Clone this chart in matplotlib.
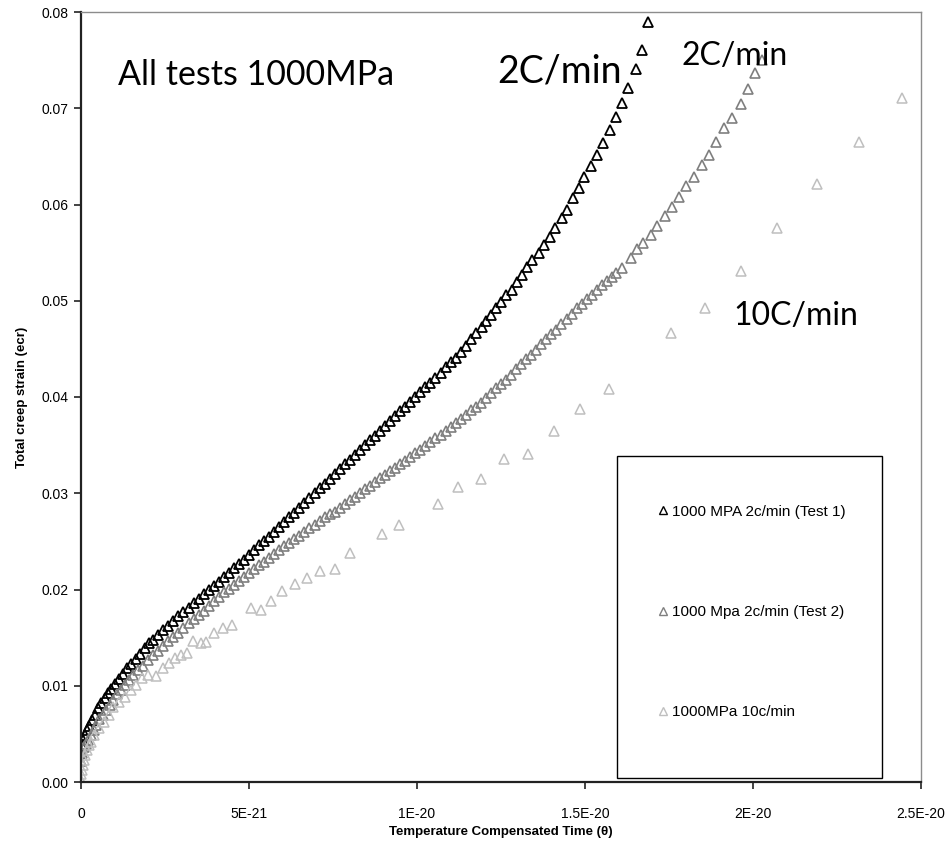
import matplotlib
matplotlib.use("Agg")
import matplotlib.pyplot as plt
from matplotlib.lines import Line2D
from matplotlib.patches import Rectangle
import numpy as np

# ---------------- data (theta in units of 1e-21) ----------------
test1_theta = [0.00, 0.03, 0.07, 0.12, 0.18, 0.25, 0.33, 0.41, 0.50, 0.60, 0.70, 0.80, 0.90, 1.00,
               1.12, 1.24, 1.37, 1.50, 1.63, 1.76, 1.89, 2.02, 2.15, 2.30, 2.45, 2.60, 2.75, 2.90,
               3.05, 3.20, 3.35, 3.50, 3.65, 3.80, 3.95, 4.10, 4.25, 4.40, 4.55, 4.70, 4.85, 5.00,
               5.15, 5.30, 5.45, 5.60, 5.75, 5.90, 6.05, 6.20, 6.35, 6.50, 6.65, 6.80, 6.95, 7.10,
               7.25, 7.40, 7.55, 7.70, 7.85, 8.00, 8.15, 8.30, 8.45, 8.60, 8.75, 8.90, 9.05, 9.20,
               9.35, 9.50, 9.65, 9.80, 9.95, 10.10, 10.25, 10.40, 10.55, 10.70, 10.85, 11.00, 11.15,
               11.30, 11.46, 11.61, 11.76, 11.93, 12.05, 12.20, 12.35, 12.50, 12.65, 12.83, 12.98,
               13.12, 13.27, 13.42, 13.63, 13.78, 13.96, 14.11, 14.32, 14.46, 14.64, 14.82, 14.97,
               15.18, 15.36, 15.54, 15.74, 15.92, 16.10, 16.28, 16.52, 16.70, 16.88]
test1_strain = [0.0030, 0.0038, 0.0044, 0.0049, 0.0054, 0.0058, 0.0064, 0.0070, 0.0077, 0.0082, 0.0087,
                0.0092, 0.0097, 0.0102, 0.0107, 0.0112, 0.0118, 0.0123, 0.0128, 0.0133, 0.0139, 0.0144,
                0.0148, 0.0153, 0.0158, 0.0162, 0.0167, 0.0172, 0.0177, 0.0181, 0.0186, 0.0190, 0.0195,
                0.0199, 0.0204, 0.0208, 0.0213, 0.0217, 0.0222, 0.0227, 0.0231, 0.0236, 0.0241, 0.0246,
                0.0250, 0.0255, 0.0260, 0.0265, 0.0270, 0.0275, 0.0280, 0.0285, 0.0290, 0.0295, 0.0300,
                0.0305, 0.0310, 0.0315, 0.0320, 0.0325, 0.0330, 0.0335, 0.0340, 0.0345, 0.0350, 0.0355,
                0.0360, 0.0365, 0.0370, 0.0375, 0.0380, 0.0385, 0.0390, 0.0395, 0.0400, 0.0405, 0.0410,
                0.0415, 0.0420, 0.0425, 0.0431, 0.0436, 0.0441, 0.0447, 0.0453, 0.0460, 0.0466, 0.0473,
                0.0479, 0.0485, 0.0492, 0.0499, 0.0506, 0.0511, 0.0519, 0.0527, 0.0535, 0.0542, 0.0550,
                0.0558, 0.0566, 0.0576, 0.0586, 0.0594, 0.0607, 0.0617, 0.0629, 0.0640, 0.0651, 0.0664,
                0.0677, 0.0691, 0.0705, 0.0721, 0.0741, 0.0761, 0.0790]

test2_theta = [0.00, 0.04, 0.09, 0.15, 0.22, 0.30, 0.38, 0.46, 0.55, 0.65, 0.75, 0.85, 0.95, 1.06,
               1.18, 1.30, 1.43, 1.56, 1.70, 1.85, 2.00, 2.15, 2.30, 2.45, 2.60, 2.75, 2.90, 3.05,
               3.20, 3.35, 3.50, 3.65, 3.80, 3.95, 4.10, 4.25, 4.40, 4.55, 4.70, 4.85, 5.00, 5.15,
               5.30, 5.45, 5.60, 5.75, 5.90, 6.05, 6.20, 6.35, 6.50, 6.65, 6.80, 6.95, 7.10, 7.25,
               7.40, 7.55, 7.70, 7.85, 8.00, 8.15, 8.30, 8.45, 8.60, 8.75, 8.90, 9.05, 9.20, 9.35,
               9.50, 9.65, 9.80, 9.95, 10.10, 10.25, 10.40, 10.55, 10.70, 10.85, 11.00, 11.15, 11.30,
               11.45, 11.60, 11.75, 11.90, 12.05, 12.20, 12.35, 12.50, 12.65, 12.80, 12.95, 13.10,
               13.25, 13.40, 13.55, 13.70, 13.85, 14.00, 14.15, 14.30, 14.45, 14.60, 14.75, 14.90,
               15.05, 15.20, 15.35, 15.50, 15.65, 15.80, 15.92, 16.10, 16.37, 16.55, 16.73, 16.96,
               17.14, 17.38, 17.59, 17.80, 18.00, 18.24, 18.48, 18.69, 18.90, 19.14, 19.38, 19.64,
               19.85, 20.06, 20.27]
test2_strain = [0.0022, 0.0030, 0.0036, 0.0040, 0.0044, 0.0049, 0.0054, 0.0059, 0.0065, 0.0070, 0.0075,
                0.0080, 0.0085, 0.0091, 0.0096, 0.0101, 0.0106, 0.0111, 0.0116, 0.0121, 0.0127, 0.0132,
                0.0136, 0.0141, 0.0146, 0.0151, 0.0155, 0.0160, 0.0165, 0.0169, 0.0174, 0.0178, 0.0183,
                0.0188, 0.0192, 0.0197, 0.0201, 0.0205, 0.0209, 0.0213, 0.0217, 0.0221, 0.0225, 0.0229,
                0.0233, 0.0237, 0.0241, 0.0245, 0.0248, 0.0252, 0.0256, 0.0260, 0.0264, 0.0267, 0.0271,
                0.0275, 0.0278, 0.0281, 0.0285, 0.0289, 0.0293, 0.0296, 0.0300, 0.0304, 0.0308, 0.0312,
                0.0316, 0.0319, 0.0323, 0.0326, 0.0330, 0.0334, 0.0338, 0.0342, 0.0345, 0.0349, 0.0353,
                0.0357, 0.0361, 0.0365, 0.0369, 0.0373, 0.0377, 0.0381, 0.0386, 0.0390, 0.0394, 0.0399,
                0.0404, 0.0409, 0.0414, 0.0418, 0.0423, 0.0429, 0.0434, 0.0439, 0.0444, 0.0449, 0.0455,
                0.0460, 0.0465, 0.0470, 0.0476, 0.0481, 0.0486, 0.0492, 0.0497, 0.0502, 0.0506, 0.0511,
                0.0516, 0.0521, 0.0525, 0.0529, 0.0534, 0.0544, 0.0554, 0.0560, 0.0568, 0.0578, 0.0588,
                0.0597, 0.0608, 0.0619, 0.0629, 0.0641, 0.0651, 0.0665, 0.0679, 0.0690, 0.0704, 0.0720,
                0.0737, 0.0750]

test3_theta = [0.00, 0.01, 0.03, 0.05, 0.09, 0.13, 0.18, 0.24, 0.30, 0.39, 0.54, 0.68, 0.83, 0.95,
               1.13, 1.31, 1.49, 1.64, 1.82, 1.99, 2.23, 2.44, 2.62, 2.80, 2.98, 3.15, 3.33, 3.57,
               3.72, 3.96, 4.23, 4.49, 5.06, 5.36, 5.65, 5.98, 6.37, 6.73, 7.11, 7.56, 8.00, 8.96,
               9.46, 10.62, 11.22, 11.90, 12.59, 13.30, 14.08, 14.85, 15.71, 17.56, 18.57, 19.64,
               20.71, 21.90, 23.15, 24.43]
test3_strain = [0.0002, 0.0008, 0.0012, 0.0018, 0.0023, 0.0028, 0.0033, 0.0038, 0.0042, 0.0049, 0.0056,
                0.0062, 0.0070, 0.0078, 0.0083, 0.0088, 0.0096, 0.0101, 0.0108, 0.0111, 0.0110, 0.0118,
                0.0124, 0.0129, 0.0132, 0.0134, 0.0146, 0.0144, 0.0145, 0.0155, 0.0160, 0.0163, 0.0181,
                0.0179, 0.0188, 0.0198, 0.0206, 0.0212, 0.0219, 0.0221, 0.0238, 0.0258, 0.0267, 0.0289,
                0.0306, 0.0315, 0.0336, 0.0341, 0.0365, 0.0388, 0.0408, 0.0466, 0.0492, 0.0531, 0.0576,
                0.0621, 0.0665, 0.0711]

series_labels = ["1000 MPA 2c/min (Test 1)", "1000 Mpa 2c/min (Test 2)", "1000MPa 10c/min"]
series_colors = ["#000000", "#7f7f7f", "#bfbfbf"]

x_ticks = [0, 5e-21, 1e-20, 1.5e-20, 2e-20, 2.5e-20]
x_tick_labels = ["0", "5E-21", "1E-20", "1.5E-20", "2E-20", "2.5E-20"]
y_ticks = [0.00, 0.01, 0.02, 0.03, 0.04, 0.05, 0.06, 0.07, 0.08]
y_tick_labels = ["0.00", "0.01", "0.02", "0.03", "0.04", "0.05", "0.06", "0.07", "0.08"]

x_label = "Temperature Compensated Time (θ)"
y_label = "Total creep strain (ecr)"
annotations = ["All tests 1000MPa", "2C/min", "2C/min", "10C/min"]

# ---------------- figure ----------------
narrow = ["Liberation Sans", "DejaVu Sans"]
callig = ["Lato", "Open Sans", "DejaVu Sans"]

W, H = 949, 860
fig = plt.figure(figsize=(W / 100, H / 100), dpi=100)
L, R, T, B = 81, 921, 12, 782
ax = fig.add_axes([L / W, 1 - B / H, (R - L) / W, (B - T) / H])

series = [(test1_theta, test1_strain), (test2_theta, test2_strain), (test3_theta, test3_strain)]
widths = [1.3, 1.2, 1.1]
for (th, st), c, lab, lw in zip(series, series_colors, series_labels, widths):
    ax.plot(np.array(th) * 1e-21, st, linestyle="none", marker="^", markersize=6.8,
            markerfacecolor="none", markeredgecolor=c, markeredgewidth=lw, label=lab)

ax.set_xlim(0, 2.5e-20)
ax.set_ylim(0, 0.08)
ax.set_xticks(x_ticks)
ax.set_xticklabels(x_tick_labels, fontfamily=narrow, fontsize=10)
ax.set_yticks(y_ticks)
ax.set_yticklabels(y_tick_labels, fontfamily=narrow, fontsize=10)
ax.tick_params(axis="x", direction="out", length=5, width=1.2, pad=13, colors="#222222")
ax.tick_params(axis="y", direction="out", length=5, width=1.2, pad=4, colors="#222222")
for lab in ax.get_xticklabels() + ax.get_yticklabels():
    lab.set_color("black")

for s in ["left", "bottom"]:
    ax.spines[s].set_color("#222222")
    ax.spines[s].set_linewidth(1.6)
for s in ["top", "right"]:
    ax.spines[s].set_color("#8c8c8c")
    ax.spines[s].set_linewidth(1.0)


def fx(px):
    return (px - L) / (R - L)


def fy(py):
    return (B - py) / (B - T)


ax.set_xlabel(x_label, fontfamily=narrow, fontsize=9.5, fontweight="bold")
ax.xaxis.set_label_coords(0.5, fy(832), transform=ax.transAxes)
ax.xaxis.label.set_va("center")
ax.set_ylabel(y_label, fontfamily=narrow, fontsize=9.5, fontweight="bold")
ax.yaxis.set_label_coords(fx(22), 0.5, transform=ax.transAxes)
ax.yaxis.label.set_va("center")

ax.text(fx(118), fy(85), annotations[0], fontfamily=callig, fontsize=24.5, va="baseline", ha="left",
        transform=ax.transAxes)
ax.text(fx(497), fy(83), annotations[1], fontfamily=callig, fontsize=27, va="baseline", ha="left",
        transform=ax.transAxes)
ax.text(fx(682), fy(65), annotations[2], fontfamily=callig, fontsize=23, va="baseline", ha="left",
        transform=ax.transAxes)
ax.text(fx(733), fy(325), annotations[3], fontfamily=callig, fontsize=23, va="baseline", ha="left",
        transform=ax.transAxes)

# legend box (drawn separately so its size matches the reference)
box = Rectangle((fx(617), fy(778)), fx(882) - fx(617), fy(456) - fy(778), transform=ax.transAxes,
                facecolor="white", edgecolor="black", linewidth=1.0, zorder=4)
ax.add_patch(box)
handles = [Line2D([], [], linestyle="none", marker="^", markersize=6, markerfacecolor="none",
                  markeredgecolor=c, markeredgewidth=1.0) for c in series_colors]
leg = ax.legend(handles, series_labels, loc="center left",
                bbox_to_anchor=(fx(658.5), fy(612)), frameon=False,
                borderpad=0, labelspacing=5.66, handlelength=0.6, handletextpad=0.3,
                borderaxespad=0, prop={"family": narrow, "size": 11})
leg.set_zorder(5)

fig.savefig("out.png", dpi=100)
